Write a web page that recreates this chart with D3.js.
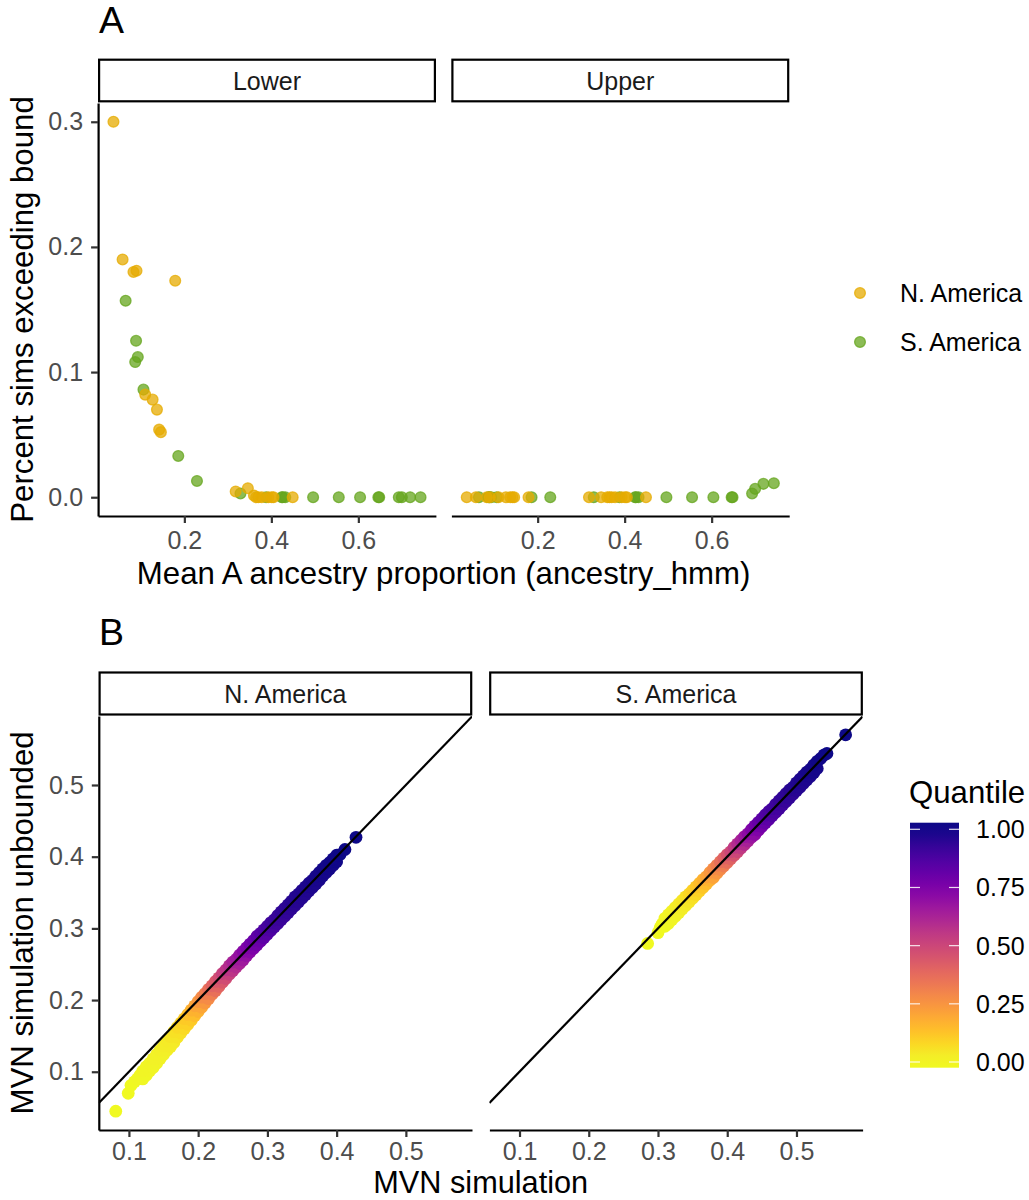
<!DOCTYPE html>
<html>
<head>
<meta charset="utf-8">
<script src="https://cdn.jsdelivr.net/npm/d3@7"></script>
<style>
  body { margin: 0; background: #fff; }
  text { font-family: "Liberation Sans", Arial, Helvetica, sans-serif; }
</style>
</head>
<body>
<svg id="chart" width="1029" height="1200"></svg>
<script>
// ---------- Panel A: share of simulations exceeding the bounds ----------
const groupNames = ["N. America", "S. America"];
const groupColors = ["#E6AB02", "#66A61E"];
const boundFacets = ["Lower", "Upper"];

// N. America: mean A ancestry, % sims below lower bound, % sims above upper bound
const naMeanA = [0.037, 0.058, 0.083, 0.090, 0.110, 0.127, 0.137, 0.142, 0.146, 0.179,
                 0.318, 0.346, 0.360, 0.365, 0.370, 0.378, 0.393, 0.401, 0.405, 0.449];
const naLower = [0.300, 0.190, 0.180, 0.181, 0.082, 0.078, 0.070, 0.054, 0.052, 0.173,
                 0.0046, 0.0072, 0.0014, 0, 0, 0, 0, 0, 0, 0];
const naUpper = [0, 0, 0, 0, 0, 0, 0, 0, 0, 0,
                 0, 0, 0, 0, 0, 0, 0, 0, 0, 0];

// S. America
const saMeanA = [0.065, 0.087, 0.089, 0.093, 0.106, 0.186, 0.229, 0.329, 0.388, 0.424, 0.426,
                 0.432, 0.496, 0.555, 0.604, 0.646, 0.648, 0.693, 0.700, 0.719, 0.743];
const saLower = [0.157, 0.108, 0.125, 0.112, 0.086, 0.033, 0.013, 0.003, 0, 0, 0,
                 0, 0, 0, 0, 0, 0, 0, 0, 0, 0];
const saUpper = [0, 0, 0, 0, 0, 0, 0, 0, 0, 0, 0,
                 0, 0, 0, 0, 0, 0, 0.003, 0.0067, 0.0107, 0.0112];

const aXTicks = [0.2, 0.4, 0.6];
const aYTicks = [0.0, 0.1, 0.2, 0.3];

// ---------- Panel B: bounded vs unbounded MVN simulation ----------
const simFacets = ["N. America", "S. America"];

// N. America: isolated points at both ends of the distribution
const naTailX = [0.081, 0.099, 0.103, 0.108, 0.112, 0.116, 0.405, 0.412, 0.428];
const naTailY = [0.045, 0.070, 0.081, 0.086, 0.090, 0.095, 0.403, 0.410, 0.427];
const naTailQ = [0.000, 0.001, 0.002, 0.003, 0.004, 0.005, 0.997, 0.998, 1.000];
// N. America: main band (upper and lower edge of the point cloud)
const naBandX = [
  0.120, 0.125, 0.130, 0.135, 0.140, 0.145, 0.150, 0.155, 0.160, 0.165,
  0.170, 0.175, 0.180, 0.185, 0.190, 0.195, 0.200, 0.205, 0.210, 0.215,
  0.220, 0.225, 0.230, 0.235, 0.240, 0.245, 0.250, 0.255, 0.260, 0.265,
  0.270, 0.275, 0.280, 0.285, 0.290, 0.295, 0.300, 0.305, 0.310, 0.315,
  0.320, 0.325, 0.330, 0.335, 0.340, 0.345, 0.350, 0.355, 0.360, 0.365,
  0.370, 0.375, 0.380, 0.385, 0.390, 0.395, 0.400];
const naBandUpperY = [
  0.101, 0.107, 0.112, 0.118, 0.124, 0.130, 0.136, 0.143, 0.149, 0.156,
  0.162, 0.168, 0.174, 0.180, 0.186, 0.192, 0.198, 0.204, 0.209, 0.215,
  0.220, 0.226, 0.231, 0.237, 0.242, 0.248, 0.253, 0.257, 0.263, 0.268,
  0.273, 0.278, 0.283, 0.289, 0.293, 0.298, 0.303, 0.308, 0.312, 0.318,
  0.323, 0.328, 0.333, 0.338, 0.344, 0.348, 0.353, 0.358, 0.363, 0.367,
  0.373, 0.378, 0.383, 0.388, 0.392, 0.397, 0.402];
const naBandLowerY = [
  0.090, 0.095, 0.101, 0.106, 0.112, 0.118, 0.124, 0.130, 0.135, 0.141,
  0.148, 0.154, 0.160, 0.166, 0.172, 0.178, 0.184, 0.190, 0.196, 0.202,
  0.208, 0.213, 0.219, 0.225, 0.230, 0.236, 0.241, 0.246, 0.251, 0.256,
  0.262, 0.267, 0.272, 0.277, 0.282, 0.287, 0.292, 0.297, 0.302, 0.307,
  0.312, 0.317, 0.322, 0.327, 0.332, 0.337, 0.342, 0.347, 0.352, 0.357,
  0.362, 0.367, 0.373, 0.378, 0.383, 0.388, 0.393];
const naBandUpperQ = [
  0.009, 0.011, 0.013, 0.016, 0.019, 0.023, 0.028, 0.034, 0.043, 0.056,
  0.072, 0.092, 0.113, 0.14, 0.17, 0.20, 0.24, 0.28, 0.32, 0.36,
  0.40, 0.44, 0.48, 0.52, 0.56, 0.59, 0.63, 0.66, 0.69, 0.72,
  0.75, 0.78, 0.80, 0.83, 0.85, 0.87, 0.89, 0.905, 0.915, 0.925,
  0.935, 0.945, 0.952, 0.958, 0.963, 0.968, 0.972, 0.976, 0.979, 0.982,
  0.985, 0.988, 0.990, 0.992, 0.994, 0.995, 0.996];
const naBandLowerQ = [
  0.005, 0.007, 0.009, 0.011, 0.013, 0.016, 0.019, 0.023, 0.028, 0.034,
  0.043, 0.056, 0.072, 0.092, 0.113, 0.14, 0.17, 0.20, 0.24, 0.28,
  0.32, 0.36, 0.40, 0.44, 0.48, 0.52, 0.56, 0.59, 0.63, 0.66,
  0.69, 0.72, 0.75, 0.78, 0.80, 0.83, 0.85, 0.87, 0.89, 0.905,
  0.915, 0.925, 0.935, 0.945, 0.952, 0.958, 0.963, 0.968, 0.972, 0.976,
  0.979, 0.982, 0.985, 0.988, 0.990, 0.992, 0.994];

// S. America: isolated points at both ends
const saTailX = [0.285, 0.300, 0.303, 0.306, 0.535, 0.540, 0.544, 0.571];
const saTailY = [0.279, 0.294, 0.301, 0.306, 0.537, 0.542, 0.544, 0.570];
const saTailQ = [0.000, 0.001, 0.002, 0.003, 0.995, 0.996, 0.998, 1.000];
// S. America: main band
const saBandX = [
  0.310, 0.315, 0.320, 0.325, 0.330, 0.335, 0.340, 0.345, 0.350, 0.355,
  0.360, 0.365, 0.370, 0.375, 0.380, 0.385, 0.390, 0.395, 0.400, 0.405,
  0.410, 0.415, 0.420, 0.425, 0.430, 0.435, 0.440, 0.445, 0.450, 0.455,
  0.460, 0.465, 0.470, 0.475, 0.480, 0.485, 0.490, 0.495, 0.500, 0.505,
  0.510, 0.515, 0.520, 0.525, 0.530];
const saBandUpperY = [
  0.314, 0.319, 0.324, 0.329, 0.334, 0.339, 0.344, 0.348, 0.353, 0.358,
  0.363, 0.368, 0.372, 0.378, 0.383, 0.388, 0.393, 0.398, 0.403, 0.407,
  0.413, 0.418, 0.423, 0.428, 0.432, 0.438, 0.443, 0.448, 0.453, 0.458,
  0.463, 0.467, 0.473, 0.478, 0.483, 0.488, 0.493, 0.497, 0.503, 0.508,
  0.513, 0.518, 0.522, 0.528, 0.533];
const saBandLowerY = [
  0.303, 0.307, 0.312, 0.317, 0.322, 0.327, 0.332, 0.337, 0.342, 0.347,
  0.352, 0.357, 0.362, 0.367, 0.371, 0.377, 0.382, 0.387, 0.392, 0.397,
  0.402, 0.407, 0.412, 0.417, 0.422, 0.427, 0.431, 0.437, 0.442, 0.447,
  0.452, 0.457, 0.462, 0.467, 0.472, 0.477, 0.482, 0.487, 0.492, 0.497,
  0.502, 0.507, 0.512, 0.517, 0.523];
const saBandUpperQ = [
  0.008, 0.012, 0.017, 0.024, 0.033, 0.045, 0.058, 0.075, 0.096, 0.12,
  0.146, 0.175, 0.21, 0.245, 0.28, 0.32, 0.365, 0.41, 0.455, 0.50,
  0.545, 0.59, 0.63, 0.67, 0.71, 0.745, 0.775, 0.805, 0.835, 0.86,
  0.878, 0.895, 0.91, 0.925, 0.935, 0.945, 0.954, 0.962, 0.969, 0.975,
  0.98, 0.985, 0.988, 0.991, 0.993];
const saBandLowerQ = [
  0.003, 0.005, 0.008, 0.012, 0.017, 0.024, 0.033, 0.045, 0.058, 0.075,
  0.096, 0.12, 0.146, 0.175, 0.21, 0.245, 0.28, 0.32, 0.365, 0.41,
  0.455, 0.50, 0.545, 0.59, 0.63, 0.67, 0.71, 0.745, 0.775, 0.805,
  0.835, 0.86, 0.878, 0.895, 0.91, 0.925, 0.935, 0.945, 0.954, 0.962,
  0.969, 0.975, 0.98, 0.985, 0.988];

const bTicks = [0.1, 0.2, 0.3, 0.4, 0.5];
const quantileTicks = [0, 0.25, 0.5, 0.75, 1];
const quantileTickLabels = ["0.00", "0.25", "0.50", "0.75", "1.00"];

// ---------- drawing ----------
const svg = d3.select("#chart");
const FONT = '"Liberation Sans", Arial, Helvetica, sans-serif';
const LW = 2.2;
const FS_TITLE = 31.2, FS_TEXT = 25, FS_TAG = 37.5;

const expand = (ext, m = 0.05) => {
  const s = ext[1] - ext[0];
  return [ext[0] - m * s, ext[1] + m * s];
};
const fmt1 = d3.format(".1f");

function styleAxis(g) {
  g.attr("font-family", FONT);
  g.select(".domain").attr("stroke", "#000").attr("stroke-width", LW);
  g.selectAll(".tick line").attr("stroke", "#333").attr("stroke-width", LW);
  g.selectAll(".tick text").attr("fill", "#4D4D4D").style("font-size", FS_TEXT + "px");
}

function strip(x0, x1, y0, y1, label) {
  svg.append("rect")
    .attr("x", x0).attr("y", y0).attr("width", x1 - x0).attr("height", y1 - y0)
    .attr("fill", "#fff").attr("stroke", "#000").attr("stroke-width", LW);
  svg.append("text")
    .attr("x", (x0 + x1) / 2).attr("y", (y0 + y1) / 2 + 9)
    .attr("text-anchor", "middle").attr("fill", "#1A1A1A")
    .style("font-size", FS_TEXT + "px").text(label);
}

// ---- Panel A ----
const aTop = 103, aBottom = 516;
const aPanels = [[98.1, 435.9], [451.4, 789.2]];
const aXDomain = expand(d3.extent(naMeanA.concat(saMeanA)));
const aYDomain = expand(d3.extent(naLower.concat(naUpper, saLower, saUpper)));
const yA = d3.scaleLinear().domain(aYDomain).range([aBottom, aTop]);

const groupsA = [
  { x: saMeanA, vals: [saLower, saUpper], color: groupColors[1] },
  { x: naMeanA, vals: [naLower, naUpper], color: groupColors[0] }
];

function dot(sel, color) {
  return sel.attr("r", 5.4)
    .attr("fill", color).attr("fill-opacity", 0.75)
    .attr("stroke", color).attr("stroke-opacity", 0.75).attr("stroke-width", 1.3);
}

boundFacets.forEach((facet, fi) => {
  const [x0, x1] = aPanels[fi];
  const xA = d3.scaleLinear().domain(aXDomain).range([x0, x1]);
  strip(x0 + 1, x1 - 1, 59.7, 101.3, facet);

  const g = svg.append("g");
  groupsA.forEach(grp => {
    g.selectAll(null)
      .data(grp.x.map((v, i) => [v, grp.vals[fi][i]]))
      .join("circle")
      .attr("cx", d => xA(d[0])).attr("cy", d => yA(d[1]))
      .call(dot, grp.color);
  });

  const ax = svg.append("g").attr("transform", `translate(0,${aBottom})`)
    .call(d3.axisBottom(xA).tickValues(aXTicks).tickFormat(fmt1)
      .tickSize(7).tickSizeOuter(0).tickPadding(8));
  styleAxis(ax);
  if (fi === 0) {
    const ay = svg.append("g").attr("transform", `translate(${x0},0)`)
      .call(d3.axisLeft(yA).tickValues(aYTicks).tickFormat(fmt1)
        .tickSize(7).tickSizeOuter(0).tickPadding(8));
    styleAxis(ay);
  }
});

// Panel A legend
groupNames.forEach((name, i) => {
  const y = 293 + i * 49;
  svg.append("circle").attr("cx", 860).attr("cy", y).call(dot, groupColors[i]);
  svg.append("text").attr("x", 900).attr("y", y + 9)
    .attr("fill", "#000").style("font-size", FS_TEXT + "px").text(name);
});

// Panel A titles
svg.append("text").attr("x", 99).attr("y", 33).style("font-size", FS_TAG + "px").text("A");
svg.append("text").attr("x", (aPanels[0][0] + aPanels[1][1]) / 2).attr("y", 584)
  .attr("text-anchor", "middle").style("font-size", FS_TITLE + "px")
  .text("Mean A ancestry proportion (ancestry_hmm)");
svg.append("text")
  .attr("transform", `translate(33,${(aTop + aBottom) / 2}) rotate(-90)`)
  .attr("text-anchor", "middle").style("font-size", FS_TITLE + "px")
  .text("Percent sims exceeding bound");

// ---- Panel B ----
const bTop = 716, bBottom = 1130;
const bPanels = [[98.8, 472], [489.4, 862.6]];

function simPoints(tailX, tailY, tailQ, bandX, upY, loY, upQ, loQ) {
  const pts = tailX.map((v, i) => ({ x: v, y: tailY[i], q: tailQ[i] }));
  bandX.forEach((v, i) => {
    pts.push({ x: v, y: upY[i], q: upQ[i] });
    pts.push({ x: v, y: loY[i], q: loQ[i] });
  });
  // points with higher quantiles are drawn last
  return pts.sort((a, b) => a.q - b.q);
}
const simData = [
  simPoints(naTailX, naTailY, naTailQ, naBandX, naBandUpperY, naBandLowerY, naBandUpperQ, naBandLowerQ),
  simPoints(saTailX, saTailY, saTailQ, saBandX, saBandUpperY, saBandLowerY, saBandUpperQ, saBandLowerQ)
];
const allSim = simData[0].concat(simData[1]);
const bXDomain = expand(d3.extent(allSim, d => d.x));
const bYDomain = expand(d3.extent(allSim, d => d.y));
const yB = d3.scaleLinear().domain(bYDomain).range([bBottom, bTop]);
const quantColor = d3.scaleSequential(t => d3.interpolatePlasma(1 - t)).domain([0, 1]);

const defs = svg.append("defs");

simFacets.forEach((facet, fi) => {
  const [x0, x1] = bPanels[fi];
  const xB = d3.scaleLinear().domain(bXDomain).range([x0, x1]);
  strip(x0 + 0.8, x1 - 0.8, 672.5, 714.5, facet);

  defs.append("clipPath").attr("id", `clipB${fi}`)
    .append("rect").attr("x", x0).attr("y", bTop).attr("width", x1 - x0).attr("height", bBottom - bTop);

  const g = svg.append("g").attr("clip-path", `url(#clipB${fi})`);
  g.selectAll("circle")
    .data(simData[fi])
    .join("circle")
    .attr("cx", d => xB(d.x)).attr("cy", d => yB(d.y)).attr("r", 6.4)
    .attr("fill", d => quantColor(d.q));

  // identity line y = x
  const lo = Math.max(bXDomain[0], bYDomain[0]), hi = Math.min(bXDomain[1], bYDomain[1]);
  g.append("line")
    .attr("x1", xB(lo)).attr("y1", yB(lo)).attr("x2", xB(hi)).attr("y2", yB(hi))
    .attr("stroke", "#000").attr("stroke-width", LW);

  const ax = svg.append("g").attr("transform", `translate(0,${bBottom})`)
    .call(d3.axisBottom(xB).tickValues(bTicks).tickFormat(fmt1)
      .tickSize(7).tickSizeOuter(0).tickPadding(5));
  styleAxis(ax);
  if (fi === 0) {
    const ay = svg.append("g").attr("transform", `translate(${x0},0)`)
      .call(d3.axisLeft(yB).tickValues(bTicks).tickFormat(fmt1)
        .tickSize(7).tickSizeOuter(0).tickPadding(8));
    styleAxis(ay);
  }
});

svg.append("text").attr("x", 99).attr("y", 645).style("font-size", FS_TAG + "px").text("B");
svg.append("text").attr("x", (bPanels[0][0] + bPanels[1][1]) / 2).attr("y", 1193)
  .attr("text-anchor", "middle").style("font-size", "30.7px").text("MVN simulation");
svg.append("text")
  .attr("transform", `translate(33,${(bTop + bBottom) / 2}) rotate(-90)`)
  .attr("text-anchor", "middle").style("font-size", FS_TITLE + "px")
  .text("MVN simulation unbounded");

// Colour bar legend
const barX = 910, barW = 49, barTop = 822.7, barBottom = 1067.7;
const yC = d3.scaleLinear().domain([0, 1]).range([1062, 829.3]);
const grad = defs.append("linearGradient").attr("id", "quantGrad")
  .attr("x1", 0).attr("x2", 0).attr("y1", 0).attr("y2", 1);
d3.range(0, 1.0001, 0.05).forEach(t => {
  const py = barTop + t * (barBottom - barTop);
  const q = Math.max(0, Math.min(1, yC.invert(py)));
  grad.append("stop").attr("offset", t).attr("stop-color", quantColor(q));
});
svg.append("rect").attr("x", barX).attr("y", barTop).attr("width", barW)
  .attr("height", barBottom - barTop).attr("fill", "url(#quantGrad)");
quantileTicks.forEach((q, i) => {
  const y = yC(q);
  [[barX, barX + 10], [barX + barW - 10, barX + barW]].forEach(([a, b]) => {
    svg.append("line").attr("x1", a).attr("x2", b).attr("y1", y).attr("y2", y)
      .attr("stroke", "#fff").attr("stroke-width", 1.2).attr("stroke-opacity", 0.85);
  });
  svg.append("text").attr("x", 976).attr("y", y + 9)
    .attr("fill", "#000").style("font-size", FS_TEXT + "px").text(quantileTickLabels[i]);
});
svg.append("text").attr("x", 909).attr("y", 803).style("font-size", FS_TITLE + "px").text("Quantile");
</script>
</body>
</html>
